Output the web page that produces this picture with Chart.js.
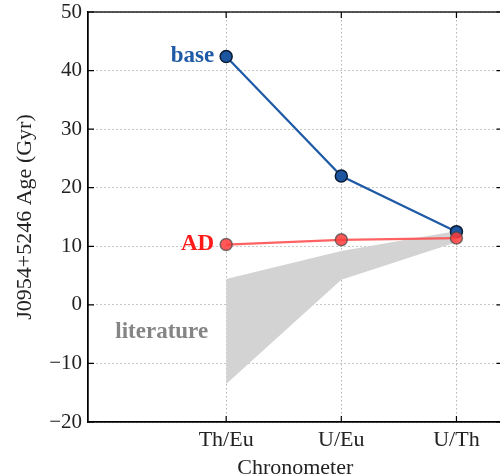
<!DOCTYPE html>
<html>
<head>
<meta charset="utf-8">
<script src="https://cdn.jsdelivr.net/npm/chart.js@4.4.1/dist/chart.umd.min.js"></script>
<style>
html,body{margin:0;padding:0;overflow:hidden;background:#fff;}
#wrap{width:510px;height:476px;}
</style>
</head>
<body>
<div id="wrap"><canvas id="c" width="510" height="476"></canvas></div>
<script>
const categories = ['Th/Eu', 'U/Eu', 'U/Th'];
const baseAges = [42.4, 22.0, 12.5];
const adAges = [10.3, 11.1, 11.4];
const litLower = [-13.5, 4.3, 10.7];
const litUpper = [4.4, 9.2, 12.6];
const yTicks = [-20, -10, 0, 10, 20, 30, 40, 50];

const pts = arr => arr.map((v, i) => ({x: i, y: v}));
const FONT = "'Liberation Serif', 'DejaVu Serif', serif";

const labelsPlugin = {
  id: 'labelsAndFrame',
  afterDraw(chart) {
    const {ctx, chartArea: a, scales: {x, y}} = chart;
    ctx.save();
    ctx.strokeStyle = '#000';
    ctx.lineWidth = 1.3;
    ctx.strokeRect(a.left, a.top, a.right - a.left, a.bottom - a.top);
    ctx.lineWidth = 1.2;
    ctx.beginPath();
    yTicks.forEach(v => {
      const py = y.getPixelForValue(v);
      ctx.moveTo(a.left, py); ctx.lineTo(a.left + 6, py);
      ctx.moveTo(a.right, py); ctx.lineTo(a.right - 6, py);
    });
    categories.forEach((c, i) => {
      const px = x.getPixelForValue(i);
      ctx.moveTo(px, a.bottom); ctx.lineTo(px, a.bottom - 6);
      ctx.moveTo(px, a.top); ctx.lineTo(px, a.top + 6);
    });
    ctx.stroke();
    ctx.textBaseline = 'middle';
    ctx.font = 'bold 23px ' + FONT;
    ctx.textAlign = 'right';
    ctx.fillStyle = '#1f5aa6';
    ctx.fillText('base', x.getPixelForValue(0) - 12, y.getPixelForValue(baseAges[0]));
    ctx.fillStyle = '#ff1a1a';
    ctx.fillText('AD', x.getPixelForValue(0) - 12, y.getPixelForValue(adAges[0]));
    ctx.textAlign = 'center';
    ctx.fillStyle = '#858585';
    ctx.fillText('literature', x.getPixelForValue(-0.56), y.getPixelForValue(-4.6));
    ctx.restore();
  }
};

new Chart(document.getElementById('c'), {
  type: 'line',
  data: {
    datasets: [
      {
        label: 'AD', data: pts(adAges),
        borderColor: 'rgba(255,70,70,0.85)', borderWidth: 2.2,
        backgroundColor: 'rgba(255,60,60,0.85)',
        pointBorderColor: 'rgba(70,70,70,0.7)', pointBorderWidth: 1.5,
        pointRadius: 6, pointHoverRadius: 6, tension: 0, fill: false
      },
      {
        label: 'base', data: pts(baseAges),
        borderColor: '#1f5aa6', borderWidth: 2.2,
        backgroundColor: '#1c55a0',
        pointBorderColor: '#0b1b33', pointBorderWidth: 1.5,
        pointRadius: 6, pointHoverRadius: 6, tension: 0, fill: false
      },
      {
        label: 'litLower', data: pts(litLower),
        borderWidth: 0, borderColor: 'rgba(0,0,0,0)', pointRadius: 0, tension: 0, fill: false
      },
      {
        label: 'litUpper', data: pts(litUpper),
        borderWidth: 0, borderColor: 'rgba(0,0,0,0)', pointRadius: 0, tension: 0,
        fill: '-1', backgroundColor: '#d3d3d3'
      }
    ]
  },
  options: {
    responsive: false,
    animation: false,
    events: [],
    layout: {padding: {top: 12, right: 2, left: 0, bottom: 0}},
    plugins: {legend: {display: false}, tooltip: {enabled: false}},
    scales: {
      x: {
        type: 'linear', min: -1.2, max: 2.4,
        afterBuildTicks: s => { s.ticks = categories.map((c, i) => ({value: i})); },
        afterFit: s => { s.height = 54; s.paddingLeft = 0; s.paddingRight = 0; },
        ticks: {
          callback: v => categories[v],
          font: {family: FONT, size: 22}, color: '#222', padding: 5, maxRotation: 0
        },
        grid: {color: '#b5b5b5', lineWidth: 1, drawTicks: false},
        border: {display: true, color: '#000', width: 1.3, dash: [1.5, 2.5]},
        title: {display: true, text: 'Chronometer', font: {family: FONT, size: 22, lineHeight: 1}, color: '#222', padding: {top: 0, bottom: -3}}
      },
      y: {
        type: 'linear', min: -20, max: 50,
        afterBuildTicks: s => { s.ticks = yTicks.map(v => ({value: v})); },
        afterFit: s => { s.width = 88; s.paddingTop = 0; s.paddingBottom = 0; },
        ticks: {
          callback: v => String(v).replace('-', '\u2212'),
          font: {family: FONT, size: 21}, color: '#222', padding: 6
        },
        grid: {color: '#b5b5b5', lineWidth: 1, drawTicks: false},
        border: {display: true, color: '#000', width: 1.3, dash: [1.5, 2.5]},
        title: {display: true, text: 'J0954+5246 Age (Gyr)', font: {family: FONT, size: 22}, color: '#222', padding: {top: 12, bottom: 0}}
      }
    }
  },
  plugins: [labelsPlugin]
});
</script>
</body>
</html>
